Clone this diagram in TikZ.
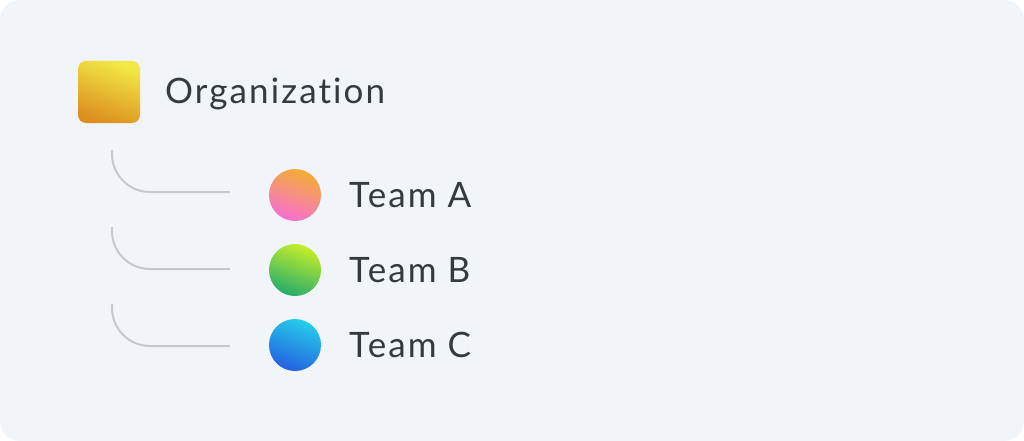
\documentclass[tikz,border=0pt]{standalone}
\usepackage{fontspec}
\setmainfont{Lato}[LetterSpace=6, Ligatures={NoCommon}]
\usetikzlibrary{positioning,calc}
\definecolor{canvas}{HTML}{F1F4F9}
\definecolor{ink}{HTML}{343A3E}
\definecolor{linkgray}{HTML}{C5C8CD}
\definecolor{orgtop}{HTML}{F2E945}
\definecolor{orgbottom}{HTML}{DC8F1E}
\definecolor{atop}{HTML}{F3AE35}
\definecolor{abottom}{HTML}{F86FD2}
\definecolor{btop}{HTML}{C6EE28}
\definecolor{bbottom}{HTML}{25AC6C}
\definecolor{ctop}{HTML}{25CDEA}
\definecolor{cbottom}{HTML}{2560E0}
\begin{document}
\begin{tikzpicture}[
  x=1pt, y=-1pt,
  every node/.style = {inner sep=0pt},
  tagtext/.style = {font=\fontsize{35}{40}\selectfont, text=ink, anchor=base west},
  orgbox/.style = {rectangle, rounded corners=8pt, minimum size=62pt,
    shading=axis, top color=orgtop, bottom color=orgbottom, shading angle=-20},
  teamdot/.style 2 args = {circle, minimum size=52pt,
    shading=axis, top color=#1, bottom color=#2, shading angle=-20},
  link/.style = {draw=linkgray, line width=2pt, rounded corners=38pt}
]
  \fill[canvas, rounded corners=20pt] (0,0) rectangle (1024,441);
  \node[orgbox] (org) at (109,92) {};
  \node[tagtext] (orgname) at (165,103) {Organization};
  \node[teamdot={atop}{abottom}] (teamA) at (295,195) {};
  \node[teamdot={btop}{bbottom}] (teamB) at (295,270) {};
  \node[teamdot={ctop}{cbottom}] (teamC) at (295,345) {};
  \node[tagtext] (nameA) at (349,207) {Team A};
  \node[tagtext] (nameB) at (349,282) {Team B};
  \node[tagtext] (nameC) at (349,357) {Team C};
  \coordinate (fromA) at (112,150);
  \coordinate (fromB) at (112,227);
  \coordinate (fromC) at (112,304);
  \coordinate (toA) at ($(teamA.west)+(-39,-3)$);
  \coordinate (toB) at ($(teamB.west)+(-39,-1)$);
  \coordinate (toC) at ($(teamC.west)+(-39,1)$);
  \draw[link] (fromA) |- (toA);
  \draw[link] (fromB) |- (toB);
  \draw[link] (fromC) |- (toC);
\end{tikzpicture}
\end{document}
